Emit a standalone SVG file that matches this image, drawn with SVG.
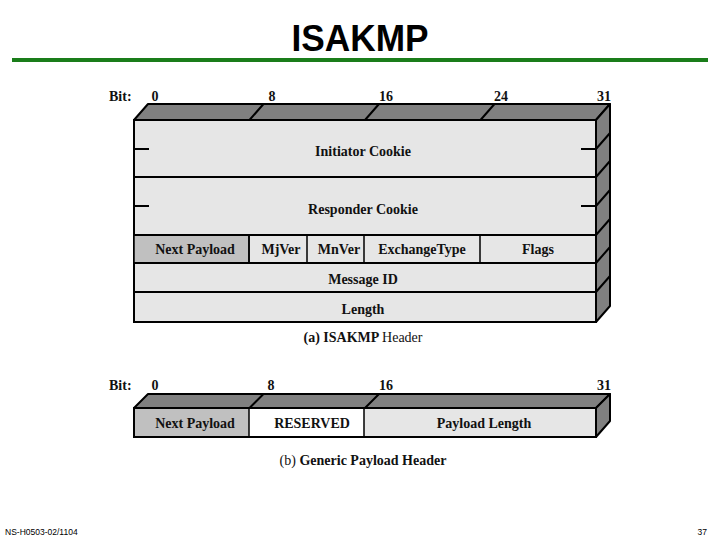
<svg xmlns="http://www.w3.org/2000/svg" width="720" height="540" viewBox="0 0 720 540">
<style>
.t{font-family:"Liberation Serif","Times New Roman",serif;font-size:14px;font-weight:bold;fill:#111;text-anchor:middle}
.b{font-family:"Liberation Serif","Times New Roman",serif;font-size:14px;font-weight:bold;fill:#111}
.face{fill:#e6e6e6;stroke:#000;stroke-width:2}
.np{fill:#c0c0c0;stroke:#000;stroke-width:1.5}
.dark{fill:#808080;stroke:#000;stroke-width:2;stroke-linejoin:round}
.ln{stroke:#000;stroke-width:2;fill:none}
.thin{stroke:#000;stroke-width:1.5;fill:none}
.foot{font-family:"Liberation Sans",Arial,sans-serif;font-size:8.5px;fill:#000}
</style>
<rect width="720" height="540" fill="#fff"/>
<g id="title">
<text x="360" y="51" font-family="Liberation Sans,Arial,sans-serif" font-size="36" font-weight="bold" text-anchor="middle" textLength="137" lengthAdjust="spacingAndGlyphs">ISAKMP</text>
<rect x="12" y="58" width="696" height="4" fill="#1a7d1a"/>
</g>
<g id="isakmp-header">
<text class="b" x="109" y="101">Bit:</text>
<text class="t" x="155" y="101">0</text>
<text class="t" x="272" y="101">8</text>
<text class="t" x="386" y="101">16</text>
<text class="t" x="501" y="101">24</text>
<text class="t" x="604" y="101">31</text>
<polygon class="dark" points="134,120 148,104 610,104 596,120"/>
<polygon class="dark" points="596,120 610,104 610,306 596,322"/>
<rect class="face" x="134" y="120" width="462" height="202"/>
<rect class="np" x="134" y="235" width="115" height="28"/>
<path class="ln" d="M249.5,120 L263.5,104 M365,120 L379,104 M480.5,120 L494.5,104"/>
<path class="ln" d="M596,149 L610,133 M596,177 L610,161 M596,206 L610,190 M596,235 L610,219 M596,263 L610,247 M596,292 L610,276"/>
<path class="ln" d="M134,177 H596 M134,235 H596 M134,263 H596 M134,292 H596"/>
<path class="ln" d="M134,149 H149 M581,149 H596 M134,206 H149 M581,206 H596"/>
<path class="thin" d="M249,235 V263 M307,235 V263 M364,235 V263 M480,235 V263"/>
<text class="t" x="363" y="156">Initiator Cookie</text>
<text class="t" x="363" y="214">Responder Cookie</text>
<text class="t" x="195" y="254">Next Payload</text>
<text class="t" x="281" y="254">MjVer</text>
<text class="t" x="339" y="254">MnVer</text>
<text class="t" x="422" y="254">ExchangeType</text>
<text class="t" x="538" y="254">Flags</text>
<text class="t" x="363" y="284">Message ID</text>
<text class="t" x="363" y="314">Length</text>
<text class="t" x="363" y="342">(a) ISAKMP <tspan font-weight="normal">Header</tspan></text>
</g>
<g id="generic-payload-header">
<text class="b" x="109" y="390">Bit:</text>
<text class="t" x="155" y="390">0</text>
<text class="t" x="271" y="390">8</text>
<text class="t" x="386" y="390">16</text>
<text class="t" x="604" y="390">31</text>
<polygon class="dark" points="134,408 148,394 610,394 596,408"/>
<polygon class="dark" points="596,408 610,394 610,421 596,437"/>
<rect x="134" y="408" width="115" height="29" fill="#c0c0c0"/>
<rect x="249" y="408" width="115" height="29" fill="#fff"/>
<rect x="364" y="408" width="232" height="29" fill="#e6e6e6"/>
<rect x="134" y="408" width="462" height="29" fill="none" stroke="#000" stroke-width="2"/>
<path class="ln" d="M249.5,408 L263.5,394 M365,408 L379,394"/>
<path class="thin" d="M249,408 V437 M364,408 V437"/>
<text class="t" x="195" y="428">Next Payload</text>
<text class="t" x="312" y="428">RESERVED</text>
<text class="t" x="484" y="428">Payload Length</text>
<text class="t" x="363" y="465"><tspan font-weight="normal">(b)</tspan> Generic Payload Header</text>
</g>
<g id="footer">
<text class="foot" x="5" y="535">NS-H0503-02/1104</text>
<text class="foot" x="707" y="535" text-anchor="end">37</text>
</g>
</svg>
